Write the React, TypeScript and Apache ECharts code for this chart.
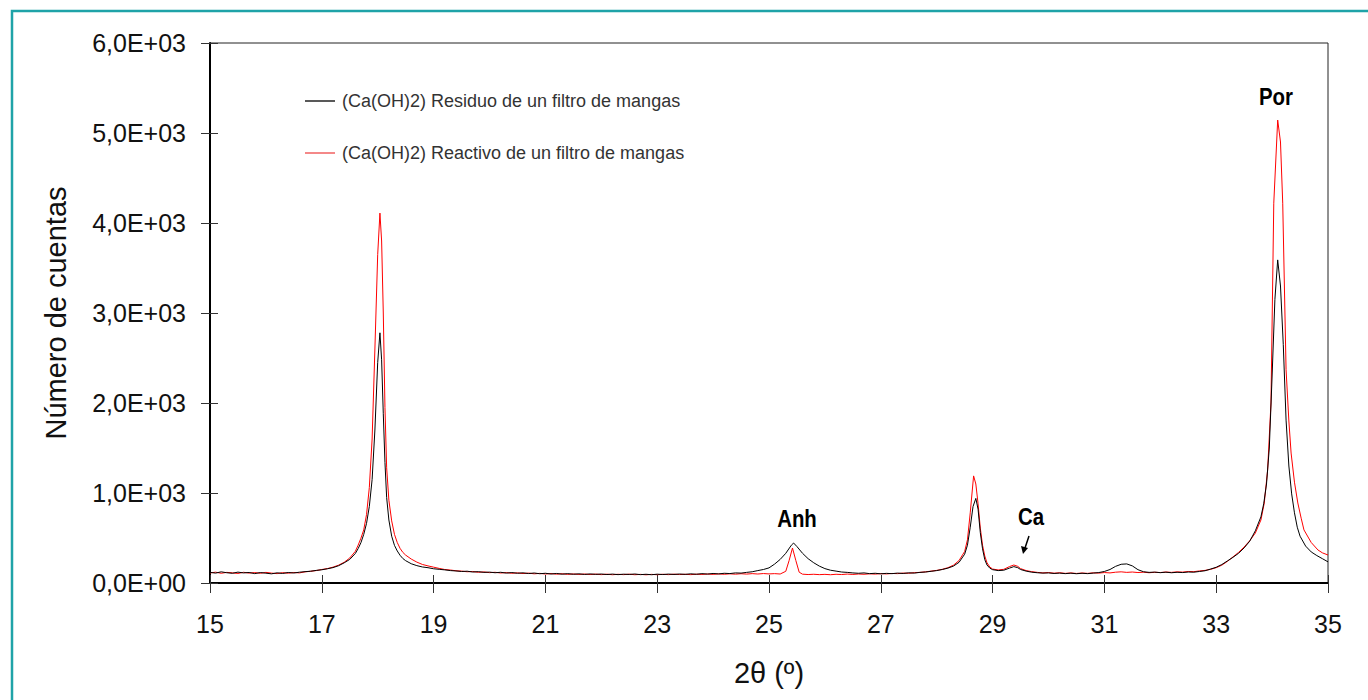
import React, { useEffect, useRef } from "react";
import * as echarts from "echarts";

const residuoName = "(Ca(OH)2) Residuo de un filtro de mangas";
const reactivoName = "(Ca(OH)2) Reactivo de un filtro de mangas";

const yTickLabels = ["0,0E+00", "1,0E+03", "2,0E+03", "3,0E+03", "4,0E+03", "5,0E+03", "6,0E+03"];

// [2θ, counts]
const residuo: number[][] = [
  [15.0, 118], [15.1, 110], [15.2, 124], [15.3, 114], [15.4, 108], [15.5, 121], [15.6, 112], [15.7, 117], [15.8, 104], [15.9, 116],
  [16.0, 109], [16.1, 102], [16.2, 113], [16.3, 106], [16.4, 117], [16.5, 111], [16.6, 120], [16.7, 126], [16.8, 131], [16.9, 140],
  [17.0, 147], [17.1, 158], [17.2, 171], [17.3, 192], [17.4, 224], [17.5, 262], [17.6, 328], [17.65, 382], [17.7, 448], [17.75, 540],
  [17.8, 662], [17.85, 850], [17.9, 1150], [17.95, 1700], [18.0, 2450], [18.04, 2780], [18.07, 2480], [18.1, 1880], [18.13, 1340],
  [18.16, 950], [18.2, 700], [18.25, 520], [18.3, 418], [18.35, 356], [18.4, 308], [18.45, 272], [18.5, 248], [18.6, 214], [18.7, 193],
  [18.8, 178], [18.9, 170], [19.0, 158], [19.1, 152], [19.2, 146], [19.3, 138], [19.4, 134], [19.5, 128], [19.6, 131], [19.7, 122],
  [19.8, 126], [19.9, 118], [20.0, 121], [20.1, 114], [20.2, 119], [20.3, 110], [20.4, 116], [20.5, 108], [20.6, 113], [20.7, 105],
  [20.8, 111], [20.9, 103], [21.0, 108], [21.1, 100], [21.2, 106], [21.3, 98], [21.4, 104], [21.5, 97], [21.6, 102], [21.7, 95],
  [21.8, 101], [21.9, 96], [22.0, 100], [22.1, 94], [22.2, 99], [22.3, 93], [22.4, 98], [22.5, 95], [22.6, 100], [22.7, 93],
  [22.8, 97], [22.9, 92], [23.0, 98], [23.1, 94], [23.2, 99], [23.3, 95], [23.4, 100], [23.5, 96], [23.6, 102], [23.7, 97],
  [23.8, 104], [23.9, 99], [24.0, 106], [24.1, 101], [24.2, 108], [24.3, 105], [24.4, 112], [24.5, 110], [24.6, 118], [24.7, 125],
  [24.8, 138], [24.9, 150], [25.0, 168], [25.1, 210], [25.2, 262], [25.3, 330], [25.4, 420], [25.44, 444], [25.5, 405], [25.6, 330],
  [25.7, 270], [25.8, 225], [25.9, 188], [26.0, 160], [26.1, 142], [26.2, 132], [26.3, 122], [26.4, 118], [26.5, 112], [26.6, 108],
  [26.7, 112], [26.8, 104], [26.9, 108], [27.0, 102], [27.1, 107], [27.2, 104], [27.3, 110], [27.4, 106], [27.5, 113], [27.6, 110],
  [27.7, 118], [27.8, 122], [27.9, 130], [28.0, 138], [28.1, 150], [28.2, 165], [28.3, 188], [28.4, 230], [28.5, 320], [28.55, 420],
  [28.6, 620], [28.65, 850], [28.7, 940], [28.74, 820], [28.78, 560], [28.82, 380], [28.86, 260], [28.9, 200], [28.95, 165], [29.0, 148],
  [29.1, 138], [29.2, 142], [29.3, 165], [29.38, 182], [29.45, 170], [29.5, 150], [29.6, 132], [29.7, 120], [29.8, 114], [29.9, 110],
  [30.0, 112], [30.1, 106], [30.2, 110], [30.3, 104], [30.4, 109], [30.5, 103], [30.6, 108], [30.7, 104], [30.8, 110], [30.9, 116],
  [31.0, 128], [31.1, 150], [31.2, 185], [31.3, 208], [31.4, 212], [31.5, 190], [31.6, 148], [31.7, 125], [31.8, 118], [31.9, 121],
  [32.0, 115], [32.1, 120], [32.2, 114], [32.3, 119], [32.4, 116], [32.5, 122], [32.6, 120], [32.7, 128], [32.8, 136], [32.9, 155],
  [33.0, 175], [33.1, 205], [33.2, 245], [33.3, 285], [33.4, 330], [33.5, 390], [33.6, 465], [33.7, 580], [33.8, 735], [33.85, 880],
  [33.9, 1100], [33.95, 1500], [34.0, 2300], [34.05, 3150], [34.1, 3590], [34.15, 3300], [34.2, 2650], [34.25, 1810], [34.3, 1300],
  [34.35, 990], [34.4, 780], [34.45, 620], [34.5, 520], [34.6, 410], [34.7, 345], [34.8, 305], [34.9, 270], [35.0, 235],
];

const reactivo: number[][] = [
  [15.0, 112], [15.1, 120], [15.2, 108], [15.3, 118], [15.4, 113], [15.5, 106], [15.6, 119], [15.7, 110], [15.8, 116], [15.9, 108],
  [16.0, 118], [16.1, 110], [16.2, 104], [16.3, 115], [16.4, 109], [16.5, 117], [16.6, 112], [16.7, 124], [16.8, 130], [16.9, 138],
  [17.0, 150], [17.1, 160], [17.2, 176], [17.3, 198], [17.4, 230], [17.5, 278], [17.6, 352], [17.65, 420], [17.7, 498], [17.75, 590],
  [17.8, 760], [17.85, 1060], [17.9, 1600], [17.95, 2600], [18.0, 3650], [18.04, 4110], [18.07, 3800], [18.1, 3000], [18.13, 1950],
  [18.16, 1280], [18.2, 920], [18.25, 690], [18.3, 540], [18.35, 450], [18.4, 385], [18.45, 340], [18.5, 310], [18.6, 266], [18.7, 232],
  [18.8, 206], [18.9, 190], [19.0, 176], [19.1, 162], [19.2, 150], [19.3, 144], [19.4, 136], [19.5, 132], [19.6, 125], [19.7, 128],
  [19.8, 119], [19.9, 123], [20.0, 115], [20.1, 119], [20.2, 111], [20.3, 116], [20.4, 108], [20.5, 113], [20.6, 105], [20.7, 110],
  [20.8, 102], [20.9, 107], [21.0, 100], [21.1, 105], [21.2, 98], [21.3, 103], [21.4, 96], [21.5, 101], [21.6, 95], [21.7, 100],
  [21.8, 94], [21.9, 99], [22.0, 93], [22.1, 98], [22.2, 92], [22.3, 97], [22.4, 93], [22.5, 98], [22.6, 92], [22.7, 96],
  [22.8, 91], [22.9, 96], [23.0, 92], [23.1, 97], [23.2, 93], [23.3, 98], [23.4, 94], [23.5, 97], [23.6, 93], [23.7, 98],
  [23.8, 95], [23.9, 100], [24.0, 96], [24.1, 101], [24.2, 97], [24.3, 102], [24.4, 98], [24.5, 103], [24.6, 99], [24.7, 104],
  [24.8, 100], [24.9, 105], [25.0, 101], [25.1, 104], [25.2, 100], [25.3, 130], [25.36, 250], [25.42, 389], [25.48, 250], [25.54, 120],
  [25.6, 98], [25.7, 94], [25.8, 97], [25.9, 93], [26.0, 96], [26.1, 92], [26.2, 97], [26.3, 94], [26.4, 99], [26.5, 95],
  [26.6, 100], [26.7, 97], [26.8, 102], [26.9, 99], [27.0, 104], [27.1, 101], [27.2, 106], [27.3, 104], [27.4, 110], [27.5, 108],
  [27.6, 115], [27.7, 118], [27.8, 124], [27.9, 132], [28.0, 140], [28.1, 152], [28.2, 170], [28.3, 198], [28.4, 250], [28.5, 350],
  [28.55, 480], [28.6, 780], [28.66, 1190], [28.7, 1100], [28.74, 880], [28.78, 610], [28.82, 420], [28.86, 300], [28.9, 225], [28.95, 178],
  [29.0, 155], [29.1, 145], [29.2, 152], [29.3, 182], [29.38, 200], [29.45, 185], [29.5, 160], [29.6, 138], [29.7, 126], [29.8, 118],
  [29.9, 112], [30.0, 116], [30.1, 109], [30.2, 114], [30.3, 107], [30.4, 112], [30.5, 106], [30.6, 111], [30.7, 107], [30.8, 113],
  [30.9, 110], [31.0, 116], [31.1, 112], [31.2, 120], [31.3, 124], [31.4, 118], [31.5, 122], [31.6, 116], [31.7, 120], [31.8, 114],
  [31.9, 119], [32.0, 116], [32.1, 122], [32.2, 118], [32.3, 124], [32.4, 121], [32.5, 128], [32.6, 126], [32.7, 134], [32.8, 140],
  [32.9, 152], [33.0, 170], [33.1, 198], [33.2, 240], [33.3, 290], [33.4, 340], [33.5, 400], [33.6, 470], [33.7, 555], [33.8, 700],
  [33.86, 889], [33.92, 1256], [33.98, 2000], [34.03, 4220], [34.1, 5144], [34.15, 4900], [34.19, 4220], [34.25, 2370], [34.3, 1800],
  [34.34, 1444], [34.4, 1120], [34.46, 889], [34.52, 720], [34.57, 590], [34.7, 450], [34.82, 367], [34.9, 335], [35.0, 311],
];

const FONT = "'Liberation Sans', Arial, sans-serif";
const NARROW = "'Liberation Sans Narrow', 'Arial Narrow', 'Liberation Sans', sans-serif";

export default function App() {
  const ref = useRef<HTMLDivElement>(null);

  useEffect(() => {
    if (!ref.current) return;
    const chart = echarts.init(ref.current, undefined, { renderer: "svg" });
    const xBase = { type: "value", min: 15, max: 35, interval: 2, gridIndex: 0 };
    const yBase = { type: "value", min: 0, max: 6000, interval: 1000, gridIndex: 0 };
    const annot = (text: string, x: number, y: number) => ({
      type: "text",
      x,
      y,
      scaleX: 0.85,
      style: { text, font: `bold 24px ${NARROW}`, fill: "#000", align: "center", verticalAlign: "middle" },
    });
    chart.setOption({
      animation: false,
      backgroundColor: "#ffffff",
      grid: { left: 210, right: 40, top: 43, bottom: 117, show: true, borderColor: "#222", borderWidth: 1, backgroundColor: "transparent" },
      legend: {
        orient: "vertical",
        left: 305,
        top: 92,
        padding: 0,
        itemGap: 34,
        itemWidth: 30,
        itemHeight: 1.5,
        icon: "rect",
        data: [residuoName, reactivoName],
        textStyle: { fontFamily: FONT, fontSize: 18, color: "#333", padding: [0, 0, 0, 2] },
      },
      xAxis: [
        {
          ...xBase,
          position: "bottom",
          name: "2θ (º)",
          nameLocation: "middle",
          nameGap: 75,
          nameTextStyle: { fontFamily: FONT, fontSize: 29, color: "#111" },
          axisLine: { show: true, onZero: false, lineStyle: { color: "#000", width: 2 } },
          axisTick: { show: true, inside: false, length: 10, lineStyle: { color: "#333", width: 1 } },
          axisLabel: { margin: 28, fontFamily: FONT, fontSize: 25, color: "#111" },
          splitLine: { show: false },
        },
        {
          ...xBase,
          position: "bottom",
          axisLine: { show: false },
          axisTick: { show: true, inside: true, length: 8, lineStyle: { color: "#333", width: 1 } },
          axisLabel: { show: false },
          splitLine: { show: false },
        },
      ],
      yAxis: [
        {
          ...yBase,
          position: "left",
          name: "Número de cuentas",
          nameLocation: "middle",
          nameGap: 140,
          nameTextStyle: { fontFamily: FONT, fontSize: 29, color: "#111" },
          axisLine: { show: true, onZero: false, lineStyle: { color: "#000", width: 2 } },
          axisTick: { show: true, inside: false, length: 9, lineStyle: { color: "#333", width: 1 } },
          axisLabel: {
            margin: 24,
            fontFamily: FONT,
            fontSize: 25,
            color: "#111",
            formatter: (v: number) => yTickLabels[Math.round(v / 1000)],
          },
          splitLine: { show: false },
        },
        {
          ...yBase,
          position: "left",
          axisLine: { show: false },
          axisTick: { show: true, inside: true, length: 8, lineStyle: { color: "#333", width: 1 } },
          axisLabel: { show: false },
          splitLine: { show: false },
        },
      ],
      series: [
        {
          name: residuoName,
          type: "line",
          data: residuo,
          showSymbol: false,
          symbol: "none",
          lineStyle: { color: "#000", width: 1 },
          itemStyle: { color: "#222" },
          z: 3,
        },
        {
          name: reactivoName,
          type: "line",
          data: reactivo,
          showSymbol: false,
          symbol: "none",
          lineStyle: { color: "#ff0000", width: 1 },
          itemStyle: { color: "#f06060" },
          z: 2,
        },
      ],
      graphic: [
        {
          type: "rect",
          shape: { x: 12, y: 11, width: 1400, height: 760 },
          style: { fill: "none", stroke: "#1fa3a8", lineWidth: 2.5 },
          silent: true,
        },
        annot("Anh", 797, 519),
        annot("Ca", 1031, 517),
        annot("Por", 1276, 97),
        { type: "line", shape: { x1: 1029, y1: 536, x2: 1025, y2: 548 }, style: { stroke: "#000", lineWidth: 1.5 } },
        { type: "polygon", shape: { points: [[1021, 546], [1028, 548], [1023, 554]] }, style: { fill: "#000" } },
      ],
    });
    return () => chart.dispose();
  }, []);

  return <div ref={ref} style={{ position: "fixed", left: 0, top: 0, width: 1368, height: 700 }} />;
}
